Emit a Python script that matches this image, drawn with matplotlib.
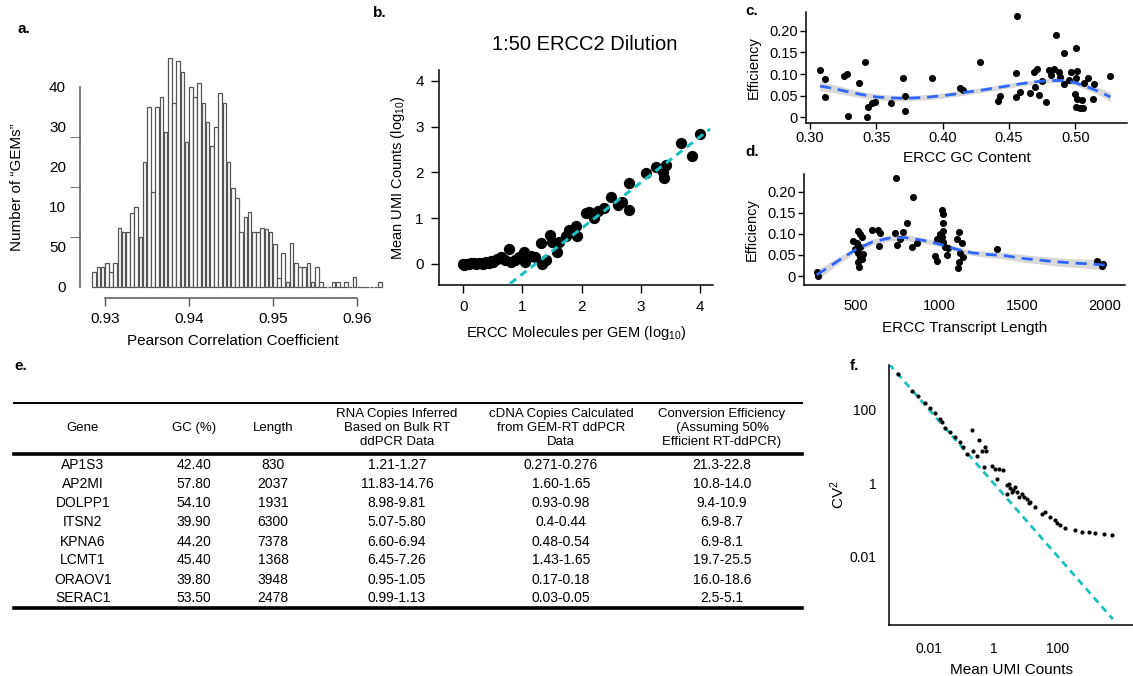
import numpy as np
import matplotlib
matplotlib.use('Agg')
import matplotlib.pyplot as plt
from matplotlib.lines import Line2D
from matplotlib.ticker import FixedLocator, FixedFormatter, NullLocator

plt.rcParams['font.family'] = ['Liberation Sans', 'DejaVu Sans']
plt.rcParams['mathtext.fontset'] = 'custom'
plt.rcParams['mathtext.rm'] = 'Liberation Sans'
plt.rcParams['mathtext.it'] = 'Liberation Sans:italic'

# ---- panel a: histogram of pearson correlations ----
hist_start = 0.9285
hist_step = 0.0005
hist_counts = [2.9, 3.9, 3.9, 4.8, 2.9, 4.8, 11.8, 10.9, 10.9, 14.8,
               15.9, 9.9, 24.9, 35.9, 18.9, 35.9, 38, 30.9, 45.8, 36.8,
               45.1, 43, 28.9, 40, 38, 40.9, 36.8, 32.9, 28.1, 31.9,
               38.8, 36.8, 24.9, 19.8, 17.8, 10.9, 13.9, 14.9, 10.9, 10.9,
               11.8, 11.5, 10.9, 8.5, 1.8, 6.8, 0.9, 8.8, 4.8, 3.9,
               3.9, 4.8, 0.9, 3.9, 0.9, 0, 0, 0.9, 0.9, 0,
               0.9, 0, 1.9, 0, 0, 0, 0, 0, 0.9]
a_xticks = [0.93, 0.94, 0.95, 0.96]
a_ytick_pos = [0, 8, 16, 24, 32, 40]
a_ytick_lab = ['0', '50', '10', '20', '30', '40']
a_ytick_marks = [0, 10, 20, 30, 40]

# ---- panel b: ERCC dilution ----
b_x = [0.0, 0.01, 0.05, 0.09, 0.13, 0.175, 0.22, 0.26, 0.30, 0.34,
       0.38, 0.43, 0.47, 0.51, 0.57, 0.63, 0.71, 0.77, 0.80, 0.88,
       0.94, 1.02, 1.05, 1.14, 1.22, 1.31, 1.33, 1.39, 1.47, 1.50,
       1.59, 1.62, 1.73, 1.79, 1.90, 1.93, 2.07, 2.12, 2.21, 2.27,
       2.38, 2.49, 2.61, 2.69, 2.80, 2.80, 3.08, 3.25, 3.37, 3.40,
       3.42, 3.68, 3.87, 4.0]
b_y = [0.0, -0.03, 0.01, 0.0, 0.02, 0.015, 0.0, 0.015, 0.03, 0.01,
       0.04, 0.03, 0.06, 0.05, 0.10, 0.15, 0.09, 0.32, 0.05, 0.09,
       0.16, 0.27, 0.05, 0.17, 0.16, 0.45, 0.0, 0.09, 0.63, 0.47,
       0.27, 0.49, 0.61, 0.74, 0.83, 0.61, 1.12, 1.14, 1.00, 1.16,
       1.22, 1.47, 1.29, 1.36, 1.19, 1.76, 1.98, 2.11, 2.02, 1.89,
       2.16, 2.65, 2.36, 2.85]
b_fit_x = [0.79, 4.17]
b_fit_offset = -1.22

# ---- panel c: efficiency vs GC content ----
c_gc = [0.3075, 0.311, 0.311, 0.326, 0.328, 0.329, 0.337, 0.3415, 0.343, 0.344,
        0.347, 0.349, 0.361, 0.370, 0.372, 0.372, 0.392, 0.413, 0.415, 0.428,
        0.442, 0.443, 0.4555, 0.456, 0.455, 0.4585, 0.4657, 0.4686, 0.471, 0.470,
        0.4723, 0.475, 0.478, 0.480, 0.482, 0.4837, 0.4857, 0.4874, 0.4887, 0.4912,
        0.4912, 0.495, 0.4968, 0.5008, 0.5013, 0.5008, 0.500, 0.5013, 0.5008, 0.5034,
        0.505, 0.5058, 0.5093, 0.5063, 0.513, 0.5138, 0.5264]
c_eff = [0.109, 0.088, 0.048, 0.095, 0.100, 0.003, 0.080, 0.128, 0.001, 0.024,
         0.032, 0.036, 0.034, 0.090, 0.049, 0.015, 0.090, 0.067, 0.063, 0.128,
         0.038, 0.049, 0.103, 0.234, 0.048, 0.059, 0.057, 0.105, 0.111, 0.071,
         0.051, 0.085, 0.036, 0.109, 0.098, 0.111, 0.190, 0.105, 0.094, 0.149,
         0.077, 0.086, 0.105, 0.159, 0.108, 0.090, 0.055, 0.042, 0.023, 0.021,
         0.040, 0.021, 0.090, 0.080, 0.042, 0.078, 0.095]
c_fit_x = [0.3075, 0.31, 0.32, 0.33, 0.34, 0.35, 0.36, 0.37, 0.38, 0.39, 0.40,
           0.41, 0.42, 0.43, 0.44, 0.45, 0.46, 0.47, 0.48, 0.49, 0.50, 0.51,
           0.52, 0.5264]
c_fit_y = [0.072, 0.071, 0.065, 0.058, 0.052, 0.047, 0.045, 0.044, 0.045, 0.047,
           0.050, 0.054, 0.059, 0.063, 0.068, 0.073, 0.078, 0.082, 0.085, 0.085,
           0.080, 0.069, 0.057, 0.047]
c_fit_se = [0.011, 0.010, 0.009, 0.008, 0.0075, 0.007, 0.0065, 0.0065, 0.006, 0.006,
            0.006, 0.006, 0.006, 0.0055, 0.0055, 0.005, 0.005, 0.005, 0.005, 0.005,
            0.006, 0.007, 0.009, 0.011]

# ---- panel d: efficiency vs transcript length ----
d_len = [263, 273, 484, 504, 514, 524, 534, 494, 514, 524,
         514, 520, 534, 540, 524, 594, 634, 645, 640, 735,
         745, 765, 741, 781, 805, 841, 835, 869, 1016, 1022,
         1022, 1022, 986, 1016, 1026, 1036, 976, 986, 1046, 1056,
         1006, 1107, 1123, 1137, 1127, 1146, 1116, 1123, 1348, 1950,
         1980, 1990]
d_eff = [0.010, 0.000, 0.084, 0.078, 0.107, 0.100, 0.092, 0.063, 0.054, 0.044,
         0.034, 0.022, 0.040, 0.052, 0.068, 0.109, 0.109, 0.103, 0.071, 0.101,
         0.074, 0.087, 0.232, 0.105, 0.126, 0.187, 0.068, 0.079, 0.157, 0.147,
         0.126, 0.107, 0.087, 0.092, 0.081, 0.068, 0.047, 0.036, 0.050, 0.066,
         0.100, 0.087, 0.105, 0.078, 0.054, 0.044, 0.018, 0.034, 0.063, 0.036,
         0.024, 0.028]
d_fit_x = [263, 300, 400, 500, 600, 700, 800, 900, 1000, 1100, 1200, 1300,
           1400, 1500, 1600, 1700, 1800, 1900, 2000]
d_fit_y = [0.003, 0.012, 0.038, 0.063, 0.081, 0.090, 0.091, 0.085, 0.076, 0.064,
           0.055, 0.051, 0.048, 0.042, 0.038, 0.034, 0.031, 0.029, 0.026]
d_fit_se = [0.012, 0.011, 0.008, 0.007, 0.007, 0.007, 0.007, 0.006, 0.006, 0.006,
            0.006, 0.007, 0.008, 0.009, 0.009, 0.010, 0.010, 0.011, 0.012]

# ---- panel e: table ----
e_header = ['Gene', 'GC (%)', 'Length',
            'RNA Copies Inferred\nBased on Bulk RT\nddPCR Data',
            'cDNA Copies Calculated\nfrom GEM-RT ddPCR\nData',
            'Conversion Efficiency\n(Assuming 50%\nEfficient RT-ddPCR)']
e_gene = ['AP1S3', 'AP2MI', 'DOLPP1', 'ITSN2', 'KPNA6', 'LCMT1', 'ORAOV1', 'SERAC1']
e_gc = ['42.40', '57.80', '54.10', '39.90', '44.20', '45.40', '39.80', '53.50']
e_length = ['830', '2037', '1931', '6300', '7378', '1368', '3948', '2478']
e_rna = ['1.21-1.27', '11.83-14.76', '8.98-9.81', '5.07-5.80', '6.60-6.94',
         '6.45-7.26', '0.95-1.05', '0.99-1.13']
e_cdna = ['0.271-0.276', '1.60-1.65', '0.93-0.98', '0.4-0.44', '0.48-0.54',
          '1.43-1.65', '0.17-0.18', '0.03-0.05']
e_conv = ['21.3-22.8', '10.8-14.0', '9.4-10.9', '6.9-8.7', '6.9-8.1',
          '19.7-25.5', '16.0-18.6', '2.5-5.1']

# ---- panel f: CV^2 vs mean (log10 values) ----
f_log_mean = [-2.97, -2.55, -2.34, -2.13, -1.98, -1.82, -1.67, -1.62, -1.51, -1.35,
              -1.20, -1.04, -0.94, -0.83, -0.68, -0.63, -0.52, -0.44, -0.37, -0.27,
              -0.22, -0.31, -0.05, 0.05, 0.16, 0.31, 0.10, 0.42, 0.52, 0.42,
              0.62, 0.73, 0.78, 0.94, 1.04, 1.15, 1.30, 1.51, 1.77, 1.93,
              1.98, 2.08, 2.24, 2.55, 2.76, 2.97, 3.18, 3.44, 3.70,
              0.48, 0.58, 0.68, 0.88, 1.10, 1.62]
f_log_cv2 = [2.98, 2.51, 2.39, 2.18, 2.05, 1.91, 1.75, 1.66, 1.52, 1.39,
             1.27, 1.12, 0.98, 0.80, 1.44, 0.89, 0.75, 1.18, 0.89, 0.98,
             0.89, 0.44, 0.48, 0.39, 0.39, 0.36, 0.12, -0.06, -0.12, -0.29,
             -0.20, -0.24, -0.38, -0.38, -0.43, -0.52, -0.65, -0.85, -0.92, -1.01,
             -1.10, -1.15, -1.24, -1.28, -1.33, -1.33, -1.36, -1.38, -1.42,
             -0.02, -0.25, -0.10, -0.30, -0.55, -0.78]
f_line_x = [-3.26, 3.72]

W, H = 1133, 676
fig = plt.figure(figsize=(W / 100, H / 100), dpi=100)


def px_axes(left, top, right, bottom):
    return fig.add_axes([left / W, 1 - bottom / H, (right - left) / W, (bottom - top) / H])


def fx(x): return x / W
def fy(y): return 1 - y / H


def style(ax, size):
    for s in ['top', 'right']:
        ax.spines[s].set_visible(False)
    for s in ['left', 'bottom']:
        ax.spines[s].set_linewidth(1.1)
    ax.tick_params(labelsize=size, width=1.0, direction='out')


# ---------------- panel a ----------------
ax = px_axes(80, 52, 385, 298)
edges = hist_start + hist_step * np.arange(len(hist_counts))
ax.bar(edges, hist_counts, width=0.00042, align='edge', color='white',
       edgecolor='#555555', linewidth=0.9)
ax.set_xlim(0.92702, 0.96333)
ax.set_ylim(-2.2, 47)
style(ax, 11)
ax.spines['left'].set_bounds(0, 40)
ax.spines['bottom'].set_bounds(0.93, 0.96)
ax.spines['left'].set_color('#555555')
ax.spines['bottom'].set_color('#555555')
ax.set_xticks(a_xticks)
ax.set_xticklabels(['0.93', '0.94', '0.95', '0.96'])
ax.tick_params(axis='x', length=6, pad=4, color='#555555')
ax.yaxis.set_major_locator(FixedLocator(a_ytick_pos))
ax.yaxis.set_major_formatter(FixedFormatter(a_ytick_lab))
ax.yaxis.set_minor_locator(FixedLocator(a_ytick_marks))
ax.tick_params(axis='y', which='major', length=0, pad=10)
ax.tick_params(axis='y', which='minor', length=7, color='#555555')
ax.set_xlabel('Pearson Correlation Coefficient', fontsize=11, labelpad=6)
ax.set_ylabel('Number of \u201cGEMs\u201d', fontsize=11)
ax.yaxis.set_label_coords(-0.184, 0.45)

# ---------------- panel b ----------------
ax = px_axes(439, 70, 713, 285)
ax.scatter(b_x, b_y, s=66, color='black', linewidths=0, zorder=3)
bfx = np.array(b_fit_x)
ax.plot(bfx, bfx + b_fit_offset, color='#1FBFBF', lw=2.2, ls=(0, (2.5, 1.8)), zorder=4)
ax.set_xlim(-0.41, 4.22)
ax.set_ylim(-0.46, 4.24)
style(ax, 11)
ax.set_xticks([0, 1, 2, 3, 4])
ax.set_yticks([0, 1, 2, 3, 4])
ax.tick_params(length=6, pad=5)
ax.set_xlabel('ERCC Molecules per GEM (log$_{10}$)', fontsize=10.5, labelpad=7)
ax.set_ylabel('Mean UMI Counts (log$_{10}$)', fontsize=10.5, labelpad=6)
fig.text(fx(585), fy(45), '1:50 ERCC2 Dilution', fontsize=14.5, ha='center', va='center')

# ---------------- panel c ----------------
ax = px_axes(806, 12, 1127, 123)
cx = np.array(c_fit_x)
cy = np.array(c_fit_y)
cse = np.array(c_fit_se)
ax.fill_between(cx, cy - cse, cy + cse, color='#BEBEBE', alpha=0.6, linewidth=0, zorder=2)
ax.scatter(c_gc, c_eff, s=26, color='black', linewidths=0, zorder=3)
ax.plot(cx, cy, color='#3366FF', lw=2, ls=(0, (4, 2.5)), zorder=4)
ax.set_xlim(0.297, 0.539)
ax.set_ylim(-0.013, 0.243)
style(ax, 10.5)
ax.set_xticks([0.30, 0.35, 0.40, 0.45, 0.50])
ax.set_xticklabels(['0.30', '0.35', '0.40', '0.45', '0.50'])
ax.set_yticks([0, 0.05, 0.10, 0.15, 0.20])
ax.set_yticklabels(['0', '0.05', '0.10', '0.15', '0.20'])
ax.tick_params(length=4, pad=2)
ax.set_xlabel('ERCC GC Content', fontsize=11, labelpad=4)
ax.set_ylabel('Efficiency', fontsize=10.5, labelpad=6)

# ---------------- panel d ----------------
ax = px_axes(804, 174, 1125, 285)
dx = np.array(d_fit_x)
dy = np.array(d_fit_y)
dse = np.array(d_fit_se)
ax.fill_between(dx, dy - dse, dy + dse, color='#BEBEBE', alpha=0.6, linewidth=0, zorder=2)
ax.scatter(d_len, d_eff, s=26, color='black', linewidths=0, zorder=3)
ax.plot(dx, dy, color='#3366FF', lw=2, ls=(0, (4, 2.5)), zorder=4)
ax.set_xlim(187, 2120)
ax.set_ylim(-0.0213, 0.242)
style(ax, 10.5)
ax.set_xticks([500, 1000, 1500, 2000])
ax.set_yticks([0, 0.05, 0.10, 0.15, 0.20])
ax.set_yticklabels(['0', '0.05', '0.10', '0.15', '0.20'])
ax.tick_params(axis='y', length=4, pad=2)
ax.tick_params(axis='x', length=0, pad=10)
ax.set_xlabel('ERCC Transcript Length', fontsize=11, labelpad=6)
ax.set_ylabel('Efficiency', fontsize=10.5, labelpad=6)

# ---------------- panel f ----------------
ax = px_axes(889, 365, 1133, 625)
ax.set_xscale('log')
ax.set_yscale('log')
fl = 10 ** np.array(f_line_x)
ax.plot(fl, 1 / fl, color='#1FBFBF', lw=2, ls=(0, (2.5, 1.8)), zorder=2)
ax.scatter(10 ** np.array(f_log_mean), 10 ** np.array(f_log_cv2), s=9,
           color='black', linewidths=0, zorder=3)
ax.set_xlim(10 ** -3.26, 10 ** 4.35)
ax.set_ylim(10 ** -3.88, 10 ** 3.23)
style(ax, 10)
ax.xaxis.set_major_locator(FixedLocator([0.01, 1, 100]))
ax.xaxis.set_major_formatter(FixedFormatter(['0.01', '1', '100']))
ax.yaxis.set_major_locator(FixedLocator([0.01, 1, 100]))
ax.yaxis.set_major_formatter(FixedFormatter(['0.01', '1', '100']))
ax.xaxis.set_minor_locator(NullLocator())
ax.yaxis.set_minor_locator(NullLocator())
ax.tick_params(axis='x', length=0, pad=12)
ax.tick_params(axis='y', length=0, pad=9)
ax.set_xlabel('Mean UMI Counts', fontsize=11, labelpad=5)
ax.set_ylabel('CV$^2$', fontsize=11, labelpad=2)

# ---------------- panel e: table ----------------
col_x = [83, 194, 273, 397, 561, 722]
row_y = [465, 483.5, 503, 521.5, 541.5, 560, 579.5, 598]
for cxp, head in zip(col_x, e_header):
    fig.text(fx(cxp), fy(428), head, ha='center', va='center', fontsize=9.5,
             linespacing=1.25)
columns = [e_gene, e_gc, e_length, e_rna, e_cdna, e_conv]
for cxp, col in zip(col_x, columns):
    for ry, val in zip(row_y, col):
        fig.text(fx(cxp), fy(ry), val, ha='center', va='center', fontsize=10)
for yline, lw in [(403, 1.4), (454, 2.6), (608, 2.6)]:
    fig.add_artist(Line2D([fx(14), fx(802)], [fy(yline), fy(yline)], color='black', lw=lw))

# panel letters
for lab, x0, y0 in [('a.', 17, 29), ('b.', 373, 13), ('c.', 745, 11), ('d.', 745, 152),
                    ('e.', 14, 366), ('f.', 850, 366)]:
    fig.text(fx(x0), fy(y0), lab, fontsize=11, fontweight='bold', ha='left', va='center')

fig.savefig('out.png', dpi=100)
